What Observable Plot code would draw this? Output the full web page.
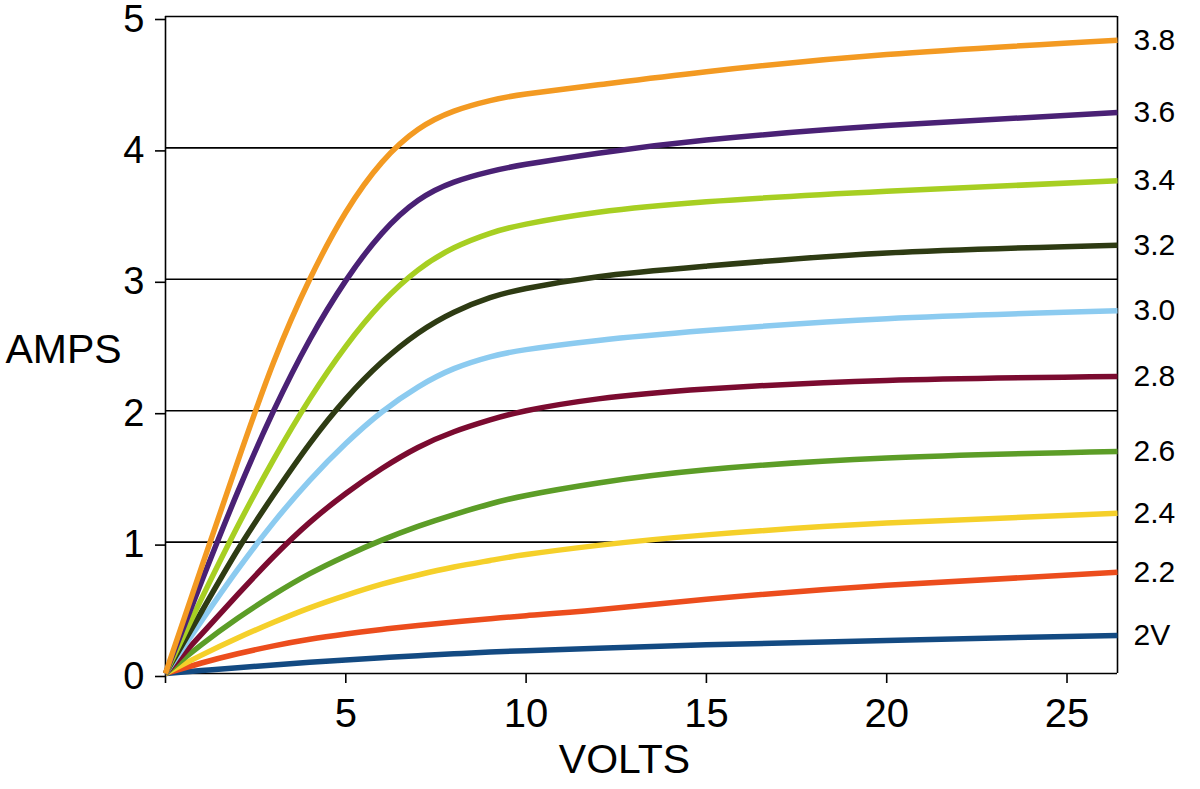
<!DOCTYPE html>
<html>
<head>
<meta charset="utf-8">
<script src="https://cdn.jsdelivr.net/npm/d3@7"></script>
<script src="https://cdn.jsdelivr.net/npm/@observablehq/plot@0.6"></script>
<style>
  html, body { margin: 0; padding: 0; background: #fff; }
  #chart svg { display: block; }
</style>
</head>
<body>
<div id="chart"></div>
<script>
// Drain voltage sample points (V)
const volts = [0, 1, 2, 3, 4, 5, 6, 7, 8, 9, 10, 12, 15, 20, 26.4];

// Drain current (A) for each gate voltage
const amps20 = [0, 0.022, 0.044, 0.065, 0.085, 0.103, 0.120, 0.136, 0.150, 0.163, 0.174, 0.193, 0.218, 0.252, 0.29];
const amps22 = [0, 0.08, 0.15, 0.21, 0.26, 0.30, 0.335, 0.365, 0.392, 0.417, 0.44, 0.485, 0.565, 0.672, 0.77];
const amps24 = [0, 0.14, 0.27, 0.39, 0.50, 0.595, 0.68, 0.75, 0.81, 0.86, 0.905, 0.975, 1.055, 1.145, 1.22];
const amps26 = [0, 0.22, 0.42, 0.60, 0.76, 0.895, 1.015, 1.12, 1.21, 1.29, 1.355, 1.45, 1.55, 1.64, 1.69];
const amps28 = [0, 0.30, 0.60, 0.89, 1.15, 1.37, 1.56, 1.72, 1.84, 1.93, 2.00, 2.09, 2.165, 2.23, 2.26];
const amps30 = [0, 0.40, 0.79, 1.15, 1.47, 1.75, 1.99, 2.18, 2.32, 2.41, 2.465, 2.535, 2.61, 2.70, 2.76];
const amps32 = [0, 0.47, 0.94, 1.36, 1.75, 2.09, 2.37, 2.59, 2.75, 2.86, 2.93, 3.02, 3.10, 3.20, 3.26];
const amps34 = [0, 0.57, 1.12, 1.63, 2.09, 2.49, 2.82, 3.07, 3.24, 3.35, 3.42, 3.51, 3.59, 3.67, 3.75];
const amps36 = [0, 0.70, 1.38, 2.00, 2.54, 2.99, 3.35, 3.60, 3.74, 3.82, 3.875, 3.96, 4.06, 4.17, 4.27];
const amps38 = [0, 0.81, 1.61, 2.37, 3.00, 3.51, 3.89, 4.14, 4.28, 4.36, 4.41, 4.48, 4.58, 4.71, 4.82];

const gateLabels = ["2V", "2.2", "2.4", "2.6", "2.8", "3.0", "3.2", "3.4", "3.6", "3.8"];
const gateColors = ["#134a82", "#ec4d1d", "#f5d02a", "#5c9d27", "#7b0b30",
                    "#8ccbf0", "#2e3b13", "#a7cf22", "#4a2175", "#f39a22"];

const ampTicks = [0, 1, 2, 3, 4, 5];
const voltTicks = [0, 5, 10, 15, 20, 25];

const series = [amps20, amps22, amps24, amps26, amps28, amps30, amps32, amps34, amps36, amps38];

const rows = series.flatMap((vals, k) =>
  vals.map((a, i) => ({gate: gateLabels[k], v: volts[i], a})));
const ends = series.map((vals, k) =>
  ({gate: gateLabels[k], v: volts[volts.length - 1], a: vals[vals.length - 1]}));

const font = "'Liberation Sans', Arial, Helvetica, sans-serif";

const chart = Plot.plot({
  width: 1200,
  height: 789,
  marginLeft: 165,
  marginRight: 83,
  marginTop: 16,
  marginBottom: 116,
  style: {fontFamily: font, background: "#fff", color: "#000", overflow: "visible"},
  x: {domain: [0, 26.4]},
  y: {domain: [0, 5]},
  color: {domain: gateLabels, range: gateColors},
  marks: [
    // horizontal grid (also closes the top of the frame)
    Plot.ruleY(ampTicks, {stroke: "#000", strokeWidth: 1.6}),
    // left axis line and right border
    Plot.ruleX([0, 26.4], {stroke: "#000", strokeWidth: 1.6}),
    Plot.axisY({
      ticks: ampTicks, tickSize: 10, tickPadding: 11, fontSize: 38,
      tickFormat: d => String(d), label: null, stroke: "#000", strokeWidth: 1.6, dy: 3
    }),
    Plot.axisX({
      ticks: voltTicks, tickSize: 10, tickPadding: 15, fontSize: 40,
      tickFormat: d => d === 0 ? "" : String(d), label: null, stroke: "#000", strokeWidth: 1.6
    }),
    Plot.line(rows, {
      x: "v", y: "a", z: "gate", stroke: "gate",
      strokeWidth: 5.5, curve: "natural", strokeLinecap: "butt"
    }),
    Plot.text(ends, {
      x: "v", y: "a", text: "gate", dx: 16, textAnchor: "start",
      fontSize: 30, fill: "#000", lineAnchor: "middle"
    }),
    Plot.text(["AMPS"], {
      text: d => d, frameAnchor: "left", dx: -160, dy: 5,
      textAnchor: "start", lineAnchor: "middle", fontSize: 41, fill: "#000"
    }),
    Plot.text(["VOLTS"], {
      text: d => d, frameAnchor: "bottom", dx: -17, dy: 86,
      lineAnchor: "middle", fontSize: 41, fill: "#000"
    })
  ]
});

document.getElementById("chart").appendChild(chart);
</script>
</body>
</html>
